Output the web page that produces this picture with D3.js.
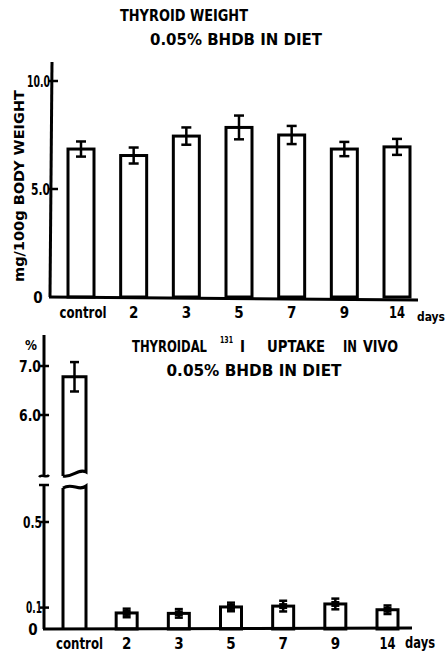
<!DOCTYPE html>
<html>
<head>
<meta charset="utf-8">
<script src="https://cdn.jsdelivr.net/npm/d3@7"></script>
<style>
  body { margin: 0; background: #fff; }
  text { font-family: "DejaVu Sans Condensed", "DejaVu Sans", sans-serif; font-weight: bold; fill: #000; }
</style>
</head>
<body>
<div id="chart"></div>
<script>
// thyroid weight, mg/100g body weight
var days = ["control", "2", "3", "5", "7", "9", "14"];
var weightMean = [6.85, 6.55, 7.45, 7.85, 7.5, 6.85, 6.95];
var weightErr = [0.35, 0.37, 0.4, 0.55, 0.42, 0.33, 0.37];
var weightTicks = [0, 5, 10];
var weightTickLabels = ["0", "5.0", "10.0"];

// thyroidal 131I uptake, %
var uptakeMean = [6.78, 0.075, 0.073, 0.103, 0.107, 0.117, 0.09];
var uptakeErr = [0.3, 0.02, 0.02, 0.02, 0.025, 0.025, 0.02];
var uptakeHighTicks = [6, 7];
var uptakeHighLabels = ["6.0", "7.0"];
var uptakeLowTicks = [0, 0.1, 0.5];
var uptakeLowLabels = ["0", "0.1", "0.5"];

var svg = d3.select("#chart").append("svg")
  .attr("width", 448)
  .attr("height", 652);

var sw = 3;

function label(x, y, str, size, len, anchor) {
  var t = svg.append("text")
    .attr("x", x).attr("y", y)
    .attr("font-size", size)
    .attr("text-anchor", anchor || "middle")
    .text(str);
  if (len) t.attr("textLength", len).attr("lengthAdjust", "spacingAndGlyphs");
  return t;
}

function errorBar(g, x, y1, y2, cap) {
  g.append("line").attr("x1", x).attr("x2", x).attr("y1", y1).attr("y2", y2)
    .attr("stroke", "#000").attr("stroke-width", 2.5);
  [y1, y2].forEach(function(y) {
    g.append("line").attr("x1", x - cap / 2).attr("x2", x + cap / 2).attr("y1", y).attr("y2", y)
      .attr("stroke", "#000").attr("stroke-width", 2.5);
  });
}

// ---------- top chart ----------
var x1 = d3.scalePoint().domain(days).range([81, 397]);
var y1 = d3.scaleLinear().domain([0, 10]).range([297, 81]);
var topG = svg.append("g");
var bw1 = 26;

topG.selectAll("rect.bar")
  .data(days)
  .enter()
  .append("rect")
  .attr("class", "bar")
  .attr("x", d => x1(d) - bw1 / 2)
  .attr("width", bw1)
  .attr("y", (d, i) => y1(weightMean[i]))
  .attr("height", (d, i) => y1(0) - y1(weightMean[i]))
  .attr("fill", "#fff")
  .attr("stroke", "#000")
  .attr("stroke-width", sw);

days.forEach(function(d, i) {
  errorBar(topG, x1(d), y1(weightMean[i] + weightErr[i]), y1(weightMean[i] - weightErr[i]), 10);
});

// axes
topG.append("line").attr("x1", 52).attr("x2", 50).attr("y1", 62).attr("y2", y1(0))
  .attr("stroke", "#000").attr("stroke-width", sw);
topG.append("line").attr("x1", 49).attr("x2", 418).attr("y1", y1(0)).attr("y2", y1(0) + 3)
  .attr("stroke", "#000").attr("stroke-width", sw);

weightTicks.forEach(function(v, i) {
  if (v > 0) {
    topG.append("line").attr("x1", 48).attr("x2", 58).attr("y1", y1(v)).attr("y2", y1(v))
      .attr("stroke", "#000").attr("stroke-width", 2.5);
  }
  var lx = v === 0 ? 38 : 50;
  var w = v === 10 ? 23 : (v === 5 ? 19 : 0);
  label(lx, y1(v) + 5.5, weightTickLabels[i], 15, w || null, v === 0 ? "middle" : "end");
});

days.forEach(function(d) {
  label(x1(d) + (d === "control" ? 2 : 0), 318, d, 15, d === "control" ? 47 : (d === "14" ? 16 : null));
});
label(417, 321, "days", 13, 28, "start");

label(0, 0, "mg/100g  BODY WEIGHT", 14, 192)
  .attr("transform", "translate(24,186) rotate(-90)");

label(184, 21, "THYROID  WEIGHT", 15, 128);
label(236, 45, "0.05%  BHDB   IN  DIET", 15, 172);

// ---------- bottom chart ----------
var x2 = d3.scalePoint().domain(days).range([74.5, 387.5]);
var yHigh = d3.scaleLinear().domain([6, 7]).range([415, 366]);
var yLow = d3.scaleLinear().domain([0, 0.5]).range([629, 522]);
var bot = svg.append("g");
var bw2 = 21;
var breakTop = 476, breakBot = 486;

// control bar drawn in two pieces across the break
var cx = x2("control");
var cl = cx - 11.5, cr = cx + 11.5;
var cTop = yHigh(uptakeMean[0]);
bot.append("path")
  .attr("d", "M" + cl + "," + breakTop + " L" + cl + "," + cTop + " L" + cr + "," + cTop +
    " L" + cr + "," + (breakTop - 4) +
    " C" + (cx + 4) + "," + (breakTop - 8) + " " + (cx - 2) + "," + (breakTop + 2) + " " + cl + "," + breakTop)
  .attr("fill", "#fff").attr("stroke", "#000").attr("stroke-width", sw);
bot.append("path")
  .attr("d", "M" + cl + "," + (breakBot + 2) +
    " C" + (cx - 2) + "," + (breakBot - 4) + " " + (cx + 4) + "," + (breakBot + 6) + " " + cr + "," + breakBot +
    " L" + cr + "," + yLow(0) + " M" + cl + "," + yLow(0) + " L" + cl + "," + (breakBot + 2))
  .attr("fill", "#fff").attr("stroke", "#000").attr("stroke-width", sw);
errorBar(bot, cx, yHigh(uptakeMean[0] + uptakeErr[0]), yHigh(uptakeMean[0] - uptakeErr[0]), 9);

var small = days.slice(1);
bot.selectAll("rect.bar")
  .data(small)
  .enter()
  .append("rect")
  .attr("class", "bar")
  .attr("x", d => x2(d) - bw2 / 2)
  .attr("width", bw2)
  .attr("y", (d, i) => yLow(uptakeMean[i + 1]))
  .attr("height", (d, i) => yLow(0) - yLow(uptakeMean[i + 1]))
  .attr("fill", "#fff")
  .attr("stroke", "#000")
  .attr("stroke-width", sw);

small.forEach(function(d, i) {
  var m = uptakeMean[i + 1], e = uptakeErr[i + 1];
  errorBar(bot, x2(d), yLow(m + e), yLow(m - e), 8);
  bot.append("rect")
    .attr("x", x2(d) - 4).attr("y", yLow(m) - 3).attr("width", 8).attr("height", 6)
    .attr("fill", "#000");
});

// broken y axis
bot.append("line").attr("x1", 44).attr("x2", 44).attr("y1", 335).attr("y2", breakTop - 1)
  .attr("stroke", "#000").attr("stroke-width", sw);
bot.append("path")
  .attr("d", "M39," + (breakTop + 1) + " C42," + (breakTop - 3) + " 46," + (breakTop + 3) + " 49," + (breakTop - 1))
  .attr("fill", "none").attr("stroke", "#000").attr("stroke-width", 2.5);
bot.append("line").attr("x1", 44).attr("x2", 44).attr("y1", breakBot - 1).attr("y2", yLow(0))
  .attr("stroke", "#000").attr("stroke-width", sw);
bot.append("line").attr("x1", 39).attr("x2", 49).attr("y1", breakBot - 1).attr("y2", breakBot - 1)
  .attr("stroke", "#000").attr("stroke-width", 2.5);
bot.append("line").attr("x1", 43).attr("x2", 412).attr("y1", yLow(0)).attr("y2", yLow(0) - 1)
  .attr("stroke", "#000").attr("stroke-width", sw);

uptakeHighTicks.forEach(function(v, i) {
  bot.append("line").attr("x1", 40).attr("x2", 49).attr("y1", yHigh(v)).attr("y2", yHigh(v))
    .attr("stroke", "#000").attr("stroke-width", 2.5);
  label(41, yHigh(v) + 5.5, uptakeHighLabels[i], 15, 22, "end");
});
uptakeLowTicks.forEach(function(v, i) {
  if (v > 0) {
    bot.append("line").attr("x1", 40).attr("x2", 49).attr("y1", yLow(v)).attr("y2", yLow(v))
      .attr("stroke", "#000").attr("stroke-width", 2.5);
    label(42, yLow(v) + 5.5, uptakeLowLabels[i], 15, v === 0.1 ? 16 : 19, "end");
  } else {
    label(33, yLow(v) + 6, uptakeLowLabels[i], 15, null, "middle");
  }
});
label(31, 350, "%", 14, 12);

days.forEach(function(d) {
  label(x2(d) + (d === "control" ? 5 : 0), 649, d, 15, d === "control" ? 47 : (d === "14" ? 16 : null));
});
label(405, 648, "days", 15, 30, "start");

// titles
label(132, 352, "THYROIDAL", 15, 75, "start");
label(220, 343, "131", 9, 13, "start");
label(240, 352, "I", 15, null, "start");
label(267, 352, "UPTAKE", 15, 58, "start");
label(343, 352, "IN", 15, 14, "start");
label(363, 352, "VIVO", 15, 35, "start");
label(254, 376, "0.05%  BHDB  IN  DIET", 15, 175);
</script>
</body>
</html>
